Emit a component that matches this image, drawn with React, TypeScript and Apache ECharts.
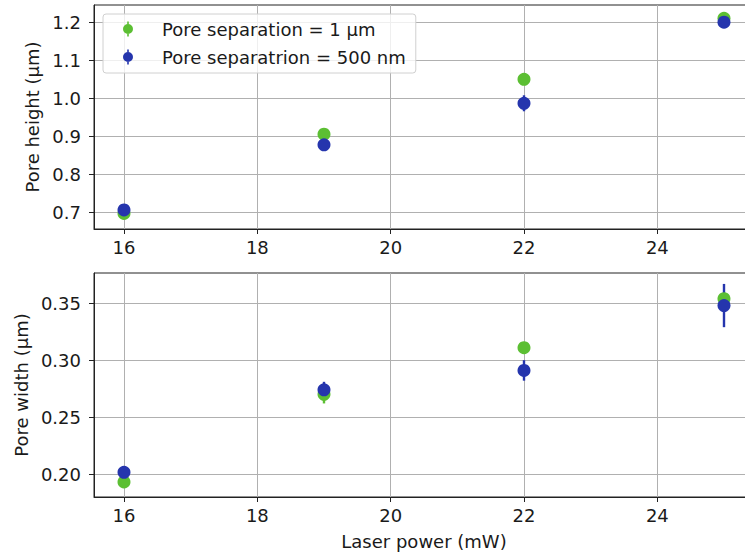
import React, { useEffect, useRef } from "react";
import * as echarts from "echarts";

const laserPower = [16, 19, 22, 25];
const xTicks = [16, 18, 20, 22, 24];

const heightSep1um = [0.698, 0.906, 1.05, 1.21];
const heightSep1umErr = [0.008, 0.01, 0.01, 0.012];
const heightSep500nm = [0.707, 0.878, 0.987, 1.2];
const heightSep500nmErr = [0.01, 0.01, 0.021, 0.01];

const widthSep1um = [0.193, 0.27, 0.311, 0.354];
const widthSep1umErr = [0.003, 0.008, 0.004, 0.006];
const widthSep500nm = [0.2015, 0.274, 0.291, 0.348];
const widthSep500nmErr = [0.003, 0.007, 0.009, 0.019];

const heightTicks = [0.7, 0.8, 0.9, 1.0, 1.1, 1.2];
const widthTicks = [0.2, 0.25, 0.3, 0.35];

const NAME_1UM = "Pore separation = 1 µm";
const NAME_500NM = "Pore separatrion = 500 nm";
const GREEN = "#5cbf33";
const BLUE = "#2535ad";

const FONT = "DejaVu Sans";
const FS = 18;
const TEXT = "#1a1a1a";

function errData(ys: number[], errs: number[]) {
  return laserPower.map((x, i) => [x, ys[i], errs[i]]);
}
function ptData(ys: number[]) {
  return laserPower.map((x, i) => [x, ys[i]]);
}

function errSeries(name: string, idx: number, ys: number[], errs: number[], color: string) {
  return {
    type: "custom",
    name,
    xAxisIndex: idx,
    yAxisIndex: idx,
    data: errData(ys, errs),
    encode: { x: 0, y: 1 },
    renderItem: (params: any, api: any) => {
      const x = api.value(0);
      const y = api.value(1);
      const e = api.value(2);
      const p1 = api.coord([x, y - e]);
      const p2 = api.coord([x, y + e]);
      return {
        type: "line",
        shape: { x1: p1[0], y1: p1[1], x2: p2[0], y2: p2[1] },
        style: { stroke: color, lineWidth: 2.4 },
      };
    },
  };
}

function ptSeries(name: string, idx: number, ys: number[], color: string) {
  return {
    type: "scatter",
    name,
    xAxisIndex: idx,
    yAxisIndex: idx,
    data: ptData(ys),
    symbol: "circle",
    symbolSize: 13,
    itemStyle: { color, opacity: 1 },
  };
}

const LEGEND_ICON =
  "path://M4.2,0h1.6v15h-1.6z M10,7.5a5,5 0 1,1 -10,0a5,5 0 1,1 10,0z";

function xAxisOpt(idx: number, showName: boolean) {
  return {
    type: "value",
    gridIndex: idx,
    min: 15.55,
    max: 25.45,
    name: showName ? "Laser power (mW)" : "",
    nameLocation: "middle",
    nameGap: 35,
    nameTextStyle: { fontFamily: FONT, fontSize: FS, color: TEXT },
    axisLine: { show: true, lineStyle: { color: "#222", width: 1 } },
    axisTick: {
      show: true,
      length: 5,
      customValues: xTicks,
      lineStyle: { color: "#222", width: 1 },
    },
    axisLabel: {
      customValues: xTicks,
      margin: 9,
      fontFamily: FONT,
      fontSize: FS,
      color: TEXT,
    },
    splitLine: { show: true, lineStyle: { color: "#b0b0b0", width: 1 } },
  };
}

function yAxisOpt(
  idx: number,
  name: string,
  min: number,
  max: number,
  ticks: number[],
  digits: number,
  gap: number
) {
  return {
    type: "value",
    gridIndex: idx,
    min,
    max,
    name,
    nameLocation: "middle",
    nameGap: gap,
    nameTextStyle: { fontFamily: FONT, fontSize: FS, color: TEXT },
    axisLine: { show: true, lineStyle: { color: "#222", width: 1 } },
    axisTick: {
      show: true,
      length: 5,
      customValues: ticks,
      lineStyle: { color: "#222", width: 1 },
    },
    axisLabel: {
      customValues: ticks,
      margin: 13,
      fontFamily: FONT,
      fontSize: FS,
      color: TEXT,
      formatter: (v: number) => v.toFixed(digits),
    },
    splitLine: { show: true, lineStyle: { color: "#b0b0b0", width: 1 } },
  };
}

export default function App() {
  const ref = useRef<HTMLDivElement>(null);

  useEffect(() => {
    if (!ref.current) return;
    const chart = echarts.init(ref.current, null, { renderer: "svg" });
    chart.setOption({
      animation: false,
      backgroundColor: "#ffffff",
      grid: [
        {
          left: 94,
          top: 5,
          height: 224,
          width: 660,
          containLabel: false,
          outerBoundsMode: "none",
          show: true,
          borderColor: "#222",
          borderWidth: 1,
          backgroundColor: "transparent",
        },
        {
          left: 94,
          top: 273,
          height: 224,
          width: 660,
          containLabel: false,
          outerBoundsMode: "none",
          show: true,
          borderColor: "#222",
          borderWidth: 1,
          backgroundColor: "transparent",
        },
      ],
      xAxis: [xAxisOpt(0, false), xAxisOpt(1, true)],
      yAxis: [
        yAxisOpt(0, "Pore height (µm)", 0.657, 1.245, heightTicks, 1, 48),
        yAxisOpt(1, "Pore width (µm)", 0.1798, 0.3766, widthTicks, 2, 63),
      ],
      legend: {
        data: [
          { name: NAME_1UM, icon: LEGEND_ICON, itemStyle: { color: GREEN } },
          { name: NAME_500NM, icon: LEGEND_ICON, itemStyle: { color: BLUE } },
        ],
        orient: "vertical",
        left: 103,
        top: 14,
        padding: [6, 10, 7, 20],
        itemWidth: 10,
        itemHeight: 15,
        itemGap: 10,
        backgroundColor: "rgba(255,255,255,0.8)",
        borderColor: "#d0d0d0",
        borderWidth: 1,
        borderRadius: 3,
        textStyle: {
          fontFamily: FONT,
          fontSize: FS,
          lineHeight: 18,
          color: TEXT,
          padding: [0, 0, 0, 24],
        },
        selectedMode: false,
      },
      series: [
        errSeries(NAME_1UM, 0, heightSep1um, heightSep1umErr, GREEN),
        ptSeries(NAME_1UM, 0, heightSep1um, GREEN),
        errSeries(NAME_500NM, 0, heightSep500nm, heightSep500nmErr, BLUE),
        ptSeries(NAME_500NM, 0, heightSep500nm, BLUE),
        errSeries(NAME_1UM, 1, widthSep1um, widthSep1umErr, GREEN),
        ptSeries(NAME_1UM, 1, widthSep1um, GREEN),
        errSeries(NAME_500NM, 1, widthSep500nm, widthSep500nmErr, BLUE),
        ptSeries(NAME_500NM, 1, widthSep500nm, BLUE),
      ],
    });
    return () => chart.dispose();
  }, []);

  return (
    <div
      ref={ref}
      style={{ position: "fixed", left: 0, top: 0, width: 745, height: 557 }}
    />
  );
}
